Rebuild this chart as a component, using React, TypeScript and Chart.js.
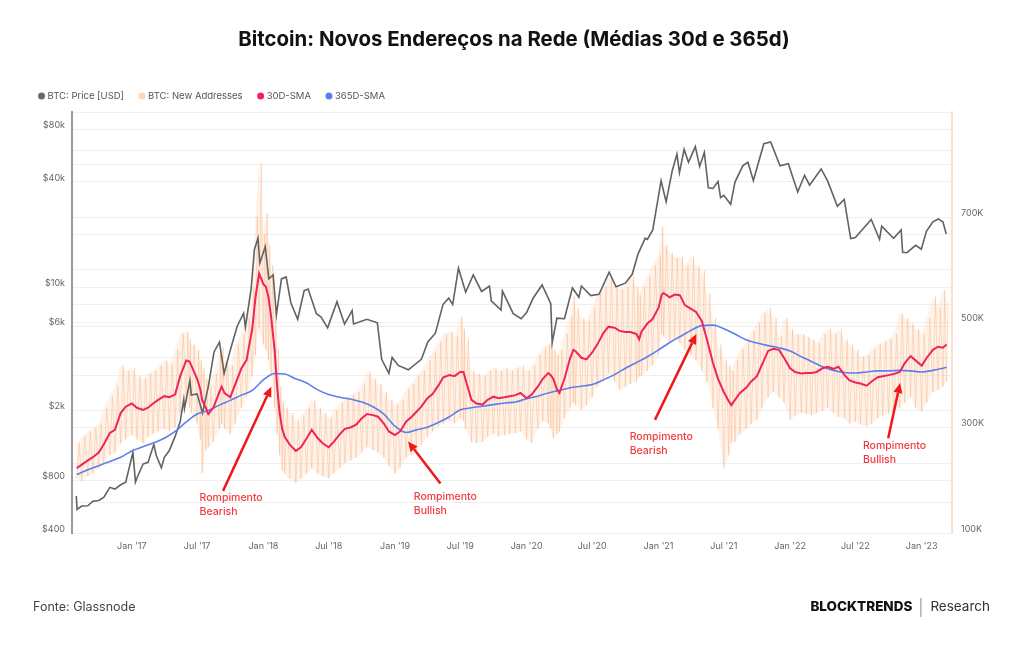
import React, { useEffect, useRef } from "react";
import { Chart, registerables } from "chart.js";

Chart.register(...registerables);

const FONT = 'Inter, "Noto Sans", Roboto, sans-serif';

const TITLE = "Bitcoin: Novos Endereços na Rede (Médias 30d e 365d)";
const SOURCE = "Fonte: Glassnode";

// BTC price (USD), left log axis
const priceDates = [
  "2016-07-31", "2016-08-02", "2016-08-15", "2016-09-01", "2016-09-15", "2016-10-01", "2016-10-15",
  "2016-11-01", "2016-11-15", "2016-12-01", "2016-12-15", "2017-01-04", "2017-01-11", "2017-01-15",
  "2017-02-01", "2017-02-15", "2017-03-03", "2017-03-10", "2017-03-24", "2017-04-01", "2017-04-15",
  "2017-05-01", "2017-05-15", "2017-05-25", "2017-05-27", "2017-06-11", "2017-06-15", "2017-07-01",
  "2017-07-16", "2017-08-01", "2017-08-17", "2017-09-01", "2017-09-14", "2017-10-01", "2017-10-20",
  "2017-11-07", "2017-11-12", "2017-11-28", "2017-12-07", "2017-12-17", "2017-12-22", "2018-01-06",
  "2018-01-16", "2018-01-28", "2018-02-06", "2018-02-20", "2018-03-05", "2018-03-18", "2018-04-06",
  "2018-04-24", "2018-05-05", "2018-05-28", "2018-06-10", "2018-06-28", "2018-07-24", "2018-08-14",
  "2018-09-04", "2018-09-08", "2018-10-15", "2018-11-13", "2018-11-25", "2018-12-15", "2018-12-24",
  "2019-01-10", "2019-02-07", "2019-03-15", "2019-04-02", "2019-04-23", "2019-05-14", "2019-05-30",
  "2019-06-10", "2019-06-26", "2019-07-16", "2019-08-06", "2019-08-29", "2019-09-20", "2019-09-25",
  "2019-10-22", "2019-10-26", "2019-11-25", "2019-12-17", "2020-01-01", "2020-01-19", "2020-02-13",
  "2020-03-08", "2020-03-12", "2020-03-25", "2020-04-15", "2020-05-07", "2020-05-25", "2020-06-01",
  "2020-06-27", "2020-07-20", "2020-08-17", "2020-09-05", "2020-10-01", "2020-10-20", "2020-11-05",
  "2020-11-25", "2020-12-01", "2020-12-16", "2021-01-08", "2021-01-22", "2021-02-08", "2021-02-21",
  "2021-02-28", "2021-03-13", "2021-03-25", "2021-04-13", "2021-04-25", "2021-05-08", "2021-05-19",
  "2021-06-01", "2021-06-15", "2021-06-22", "2021-07-01", "2021-07-20", "2021-08-01", "2021-08-23",
  "2021-09-06", "2021-09-21", "2021-10-20", "2021-11-08", "2021-12-04", "2021-12-27", "2022-01-22",
  "2022-02-10", "2022-02-24", "2022-03-28", "2022-04-15", "2022-05-12", "2022-05-31", "2022-06-18",
  "2022-07-01", "2022-08-14", "2022-09-06", "2022-09-12", "2022-10-15", "2022-11-05", "2022-11-09",
  "2022-11-21", "2022-12-15", "2022-12-31", "2023-01-14", "2023-02-01", "2023-02-16", "2023-03-01",
  "2023-03-10",
];
const priceUsd = [
  650, 545, 570, 572, 607, 613, 638,
  728, 712, 753, 778, 1150, 780, 820,
  988, 1010, 1280, 1100, 940, 1080, 1180,
  1420, 1720, 2300, 2050, 2950, 2440, 2480,
  1930, 2720, 4300, 4890, 3240, 4400, 6000,
  7150, 5950, 9900, 16500, 19100, 13800, 17100,
  11200, 11800, 7000, 11200, 11500, 8200, 6600,
  9600, 9800, 7100, 6800, 5900, 8300, 6200,
  7400, 6200, 6600, 6300, 3900, 3250, 4000,
  3600, 3400, 3900, 4900, 5500, 8000, 8700,
  8000, 12900, 9400, 11800, 9500, 10200, 8400,
  7450, 9550, 7100, 6650, 7200, 8700, 10350,
  8100, 4850, 6700, 6650, 9950, 8800, 10200,
  9000, 9160, 12250, 10100, 10600, 11900, 15500,
  19100, 18800, 21300, 40600, 30800, 46300, 57500,
  45100, 61200, 51700, 63500, 49000, 58800, 37000,
  36700, 40200, 32500, 33500, 29800, 39900, 49500,
  51700, 40700, 66000, 67500, 49400, 50700, 35000,
  43600, 38300, 47400, 40500, 29000, 31800, 19000,
  19300, 24400, 18800, 22400, 19100, 21300, 15900,
  15800, 17400, 16550, 20900, 23700, 24600, 23600,
  20200,
];

// New addresses (thousands): daily range per period, and the 30-day average
const smaDates = [
  "2016-08-01", "2016-08-15", "2016-09-01", "2016-09-15", "2016-10-01", "2016-10-15", "2016-11-01",
  "2016-11-15", "2016-12-01", "2016-12-15", "2017-01-01", "2017-01-15", "2017-02-01", "2017-02-15",
  "2017-03-01", "2017-03-15", "2017-04-01", "2017-04-15", "2017-05-01", "2017-05-15", "2017-06-01",
  "2017-06-10", "2017-06-15", "2017-07-01", "2017-07-10", "2017-07-15", "2017-07-25", "2017-08-01",
  "2017-08-15", "2017-09-01", "2017-09-07", "2017-09-15", "2017-10-01", "2017-10-15", "2017-11-01",
  "2017-11-15", "2017-12-01", "2017-12-10", "2017-12-20", "2018-01-01", "2018-01-08", "2018-01-15",
  "2018-01-22", "2018-02-01", "2018-02-08", "2018-02-15", "2018-02-22", "2018-03-01", "2018-03-15",
  "2018-04-01", "2018-04-15", "2018-05-01", "2018-05-15", "2018-06-01", "2018-06-15", "2018-07-01",
  "2018-07-15", "2018-08-01", "2018-08-15", "2018-09-01", "2018-09-15", "2018-10-01", "2018-10-15",
  "2018-11-01", "2018-11-15", "2018-12-01", "2018-12-15", "2019-01-01", "2019-01-15", "2019-02-01",
  "2019-02-15", "2019-03-01", "2019-03-15", "2019-04-01", "2019-04-15", "2019-05-01", "2019-05-15",
  "2019-06-01", "2019-06-15", "2019-07-01", "2019-07-10", "2019-07-15", "2019-08-01", "2019-08-15",
  "2019-09-01", "2019-09-15", "2019-10-01", "2019-10-15", "2019-11-01", "2019-11-15", "2019-12-01",
  "2019-12-15", "2020-01-01", "2020-01-15", "2020-02-01", "2020-02-15", "2020-03-01", "2020-03-08",
  "2020-03-15", "2020-03-25", "2020-04-01", "2020-04-15", "2020-05-01", "2020-05-10", "2020-05-15",
  "2020-06-01", "2020-06-15", "2020-07-01", "2020-07-15", "2020-08-01", "2020-08-15", "2020-09-01",
  "2020-09-15", "2020-10-01", "2020-10-15", "2020-11-01", "2020-11-08", "2020-11-15", "2020-12-01",
  "2020-12-15", "2021-01-01", "2021-01-10", "2021-01-15", "2021-02-01", "2021-02-15", "2021-03-01",
  "2021-03-15", "2021-04-01", "2021-04-15", "2021-05-01", "2021-05-15", "2021-06-01", "2021-06-15",
  "2021-07-01", "2021-07-15", "2021-07-22", "2021-08-01", "2021-08-15", "2021-09-01", "2021-09-15",
  "2021-10-01", "2021-10-15", "2021-11-01", "2021-11-15", "2021-12-01", "2021-12-15", "2022-01-01",
  "2022-01-15", "2022-02-01", "2022-02-15", "2022-03-01", "2022-03-15", "2022-04-01", "2022-04-15",
  "2022-05-01", "2022-05-15", "2022-06-01", "2022-06-15", "2022-07-01", "2022-07-15", "2022-08-01",
  "2022-08-15", "2022-09-01", "2022-09-15", "2022-10-01", "2022-10-15", "2022-11-01", "2022-11-15",
  "2022-12-01", "2022-12-15", "2023-01-01", "2023-01-15", "2023-02-01", "2023-02-15", "2023-03-01",
  "2023-03-11",
];
const newAddrLow = [
  203, 198, 208, 213, 223, 233, 248,
  253, 270, 278, 286, 278, 270, 283,
  288, 293, 298, 293, 300, 328, 348,
  338, 328, 308, 278, 214, 258, 263,
  273, 298, 308, 298, 288, 308, 338,
  358, 398, 438, 488, 458, 448, 428,
  398, 338, 288, 248, 218, 213, 203,
  195, 203, 213, 223, 213, 208, 203,
  213, 223, 233, 238, 243, 253, 263,
  258, 253, 243, 228, 213, 223, 243,
  248, 258, 268, 283, 293, 303, 308,
  313, 308, 318, 313, 298, 273, 271,
  273, 283, 288, 283, 286, 288, 290,
  293, 278, 271, 298, 313, 308, 298,
  280, 288, 293, 318, 338, 348, 343,
  334, 343, 358, 378, 388, 403, 388,
  372, 378, 383, 388, 397, 398, 408,
  418, 438, 478, 473, 463, 468, 461,
  448, 438, 428, 408, 388, 338, 298,
  223, 248, 271, 273, 288, 298, 308,
  315, 338, 358, 368, 358, 348, 315,
  323, 328, 326, 324, 328, 333, 338,
  328, 321, 318, 308, 312, 306, 303,
  308, 318, 323, 328, 333, 338, 348,
  358, 338, 331, 348, 368, 372, 378,
  388,
];
const newAddrHigh = [
  270, 283, 293, 298, 308, 338, 360,
  378, 419, 408, 413, 398, 393, 403,
  408, 418, 428, 420, 448, 480, 483,
  468, 458, 448, 428, 413, 393, 378,
  403, 438, 453, 428, 418, 458, 478,
  508, 568, 701, 802, 668, 708, 648,
  608, 528, 448, 378, 348, 338, 328,
  313, 323, 338, 353, 338, 328, 318,
  333, 348, 358, 363, 368, 383, 407,
  393, 383, 368, 353, 343, 353, 373,
  383, 398, 408, 428, 443, 463, 478,
  483, 473, 511, 488, 468, 408, 403,
  398, 408, 413, 408, 413, 408, 413,
  418, 408, 418, 438, 453, 458, 463,
  448, 438, 448, 478, 511, 549, 528,
  508, 503, 528, 556, 568, 587, 568,
  563, 568, 587, 568, 553, 568, 588,
  608, 628, 682, 648, 632, 623, 625,
  608, 625, 608, 598, 556, 508, 458,
  429, 418, 408, 428, 448, 463, 483,
  499, 518, 528, 508, 473, 508, 488,
  478, 478, 473, 468, 461, 478, 488,
  478, 488, 468, 458, 448, 435, 438,
  448, 458, 463, 468, 478, 518, 508,
  498, 488, 478, 508, 549, 528, 562,
  538,
];
const sma30d = [
  223, 230, 238, 244, 253, 268, 290,
  296, 328, 340, 346, 338, 334, 338,
  346, 353, 360, 358, 363, 398, 428,
  426, 418, 393, 373, 353, 338, 326,
  338, 368, 378, 366, 358, 383, 413,
  428, 488, 548, 593, 573, 568, 548,
  513, 448, 378, 328, 298, 283, 268,
  256, 263, 280, 296, 280, 270, 263,
  273, 288, 298, 301, 306, 318, 326,
  324, 321, 308, 293, 286, 293, 312,
  320, 330, 340, 356, 364, 380, 396,
  400, 398, 406, 406, 393, 353, 346,
  344, 353, 359, 356, 358, 360, 362,
  366, 356, 363, 378, 393, 404, 400,
  393, 373, 366, 393, 433, 448, 446,
  433, 430, 443, 458, 480, 492, 490,
  484, 482, 482, 478, 468, 483, 498,
  506, 528, 553, 556, 548, 553, 552,
  533, 526, 520, 503, 468, 423, 393,
  368, 350, 343, 353, 366, 376, 388,
  398, 420, 446, 450, 448, 433, 413,
  406, 403, 404, 404, 406, 413, 416,
  412, 416, 400, 390, 386, 384, 380,
  388, 396, 398, 400, 402, 406, 423,
  436, 428, 418, 433, 448, 454, 452,
  458,
];

// 365-day average of new addresses (thousands)
const sma365Dates = [
  "2016-08-01", "2016-09-01", "2016-10-01", "2016-11-01", "2016-12-01",
  "2017-01-01", "2017-02-01", "2017-03-01", "2017-04-01", "2017-05-01", "2017-06-01",
  "2017-07-01", "2017-08-01", "2017-09-01", "2017-10-01", "2017-11-01", "2017-12-01",
  "2018-01-01", "2018-02-01", "2018-03-01", "2018-04-01", "2018-05-01", "2018-06-01",
  "2018-07-01", "2018-08-01", "2018-09-01", "2018-10-01", "2018-11-01", "2018-12-01",
  "2019-01-01", "2019-02-01", "2019-03-01", "2019-04-01", "2019-05-01", "2019-06-01",
  "2019-07-01", "2019-08-01", "2019-09-01", "2019-10-01", "2019-11-01", "2019-12-01",
  "2020-01-01", "2020-02-01", "2020-03-01", "2020-04-01", "2020-05-01", "2020-06-01",
  "2020-07-01", "2020-08-01", "2020-09-01", "2020-10-01", "2020-11-01", "2020-12-01",
  "2021-01-01", "2021-02-01", "2021-03-01", "2021-04-01", "2021-05-01", "2021-06-01",
  "2021-07-01", "2021-08-01", "2021-09-01", "2021-10-01", "2021-11-01", "2021-12-01",
  "2022-01-01", "2022-02-01", "2022-03-01", "2022-04-01", "2022-05-01", "2022-06-01",
  "2022-07-01", "2022-08-01", "2022-09-01", "2022-10-01", "2022-11-01", "2022-12-01",
  "2023-01-01", "2023-02-01", "2023-03-01", "2023-03-11",
];
const sma365d = [
  211, 220, 228, 236, 244,
  256, 264, 271, 280, 293, 311,
  326, 333, 343, 352, 362, 371,
  391, 403, 402, 393, 385, 372,
  363, 358, 354, 349, 340, 326,
  303, 291, 296, 301, 310, 321,
  334, 338, 341, 344, 347, 349,
  355, 360, 366, 371, 376, 379,
  382, 391, 401, 413, 424, 435,
  448, 462, 473, 485, 494, 495,
  488, 478, 467, 461, 456, 452,
  446, 435, 426, 416, 409, 405,
  404, 406, 408, 408, 409, 408,
  406, 409, 413, 415,
];

// Axis ticks
const xTickDates = [
  "2017-01-01", "2017-07-01", "2018-01-01", "2018-07-01", "2019-01-01", "2019-07-01", "2020-01-01",
  "2020-07-01", "2021-01-01", "2021-07-01", "2022-01-01", "2022-07-01", "2023-01-01",
];
const xTickLabels = [
  "Jan '17", "Jul '17", "Jan '18", "Jul '18", "Jan '19", "Jul '19", "Jan '20",
  "Jul '20", "Jan '21", "Jul '21", "Jan '22", "Jul '22", "Jan '23",
];
const priceGridValues = [400, 600, 800, 1000, 2000, 4000, 6000, 8000, 10000, 20000, 40000, 60000, 80000];
const priceTickValues = [400, 800, 2000, 6000, 10000, 40000, 80000];
const priceTickLabels = ["$400", "$800", "$2k", "$6k", "$10k", "$40k", "$80k"];
const addrGridValues = [100, 200, 300, 400, 500, 600, 700, 800, 900];
const addrTickValues = [100, 300, 500, 700];
const addrTickLabels = ["100K", "300K", "500K", "700K"];

// Legend
const legendLabels = ["BTC: Price [USD]", "BTC: New Addresses", "30D-SMA", "365D-SMA"];
const legendColors = ["#6b6b6b", "#fcd7ba", "#f0245c", "#5b80ee"];

// Callouts anchored at [date, new addresses (K)]
const callouts = [
  { lines: ["Rompimento", "Bearish"], text: ["2017-07-08", 167], from: ["2017-09-11", 180], to: ["2018-01-23", 378] },
  { lines: ["Rompimento", "Bullish"], text: ["2019-02-22", 169], from: ["2019-05-07", 194], to: ["2019-02-06", 274] },
  { lines: ["Rompimento", "Bearish"], text: ["2020-10-13", 283], from: ["2020-12-22", 315], to: ["2021-04-16", 478] },
  { lines: ["Rompimento", "Bullish"], text: ["2022-07-22", 265], from: ["2022-09-30", 280], to: ["2022-11-02", 385] },
];

const DAY0 = Date.UTC(2017, 0, 1);
function toDay(s: string): number {
  const [y, m, d] = s.split("-").map(Number);
  return (Date.UTC(y, m - 1, d || 1) - DAY0) / 86400000;
}

// Daily swings of new addresses drawn as an alternating low/high trace
function buildAddressTrace() {
  const pts: { x: number; y: number }[] = [];
  smaDates.forEach((s, i) => {
    const d = toDay(s);
    const next = i < smaDates.length - 1 ? toDay(smaDates[i + 1]) : d + 8;
    pts.push({ x: d, y: newAddrLow[i] });
    pts.push({ x: (d + next) / 2, y: newAddrHigh[i] });
  });
  return pts;
}

const overlayPlugin = {
  id: "overlay",
  afterDraw(chart: any) {
    const { ctx, scales } = chart;
    const xs = scales.x;
    const ys = scales.yAddr;
    ctx.save();

    // Title
    ctx.fillStyle = "#111111";
    ctx.font = `700 20.4px ${FONT}`;
    ctx.textAlign = "center";
    ctx.textBaseline = "middle";
    ctx.fillText(TITLE, 514, 40);

    // Legend
    ctx.font = `400 9.5px ${FONT}`;
    ctx.textAlign = "left";
    let lx = 38;
    legendLabels.forEach((label, i) => {
      ctx.fillStyle = legendColors[i];
      ctx.beginPath();
      ctx.arc(lx + 3.5, 96, 3.5, 0, Math.PI * 2);
      ctx.fill();
      ctx.fillStyle = "#555555";
      ctx.fillText(label, lx + 9.5, 96.5);
      lx += 9.5 + ctx.measureText(label).width + 14.5;
    });

    // Callouts
    callouts.forEach((c) => {
      const tx = xs.getPixelForValue(toDay(c.text[0] as string));
      const ty = ys.getPixelForValue(c.text[1] as number);
      const fx = xs.getPixelForValue(toDay(c.from[0] as string));
      const fy = ys.getPixelForValue(c.from[1] as number);
      const hx = xs.getPixelForValue(toDay(c.to[0] as string));
      const hy = ys.getPixelForValue(c.to[1] as number);
      const ang = Math.atan2(hy - fy, hx - fx);
      const headLen = 10;
      const bx = hx - Math.cos(ang) * headLen;
      const by = hy - Math.sin(ang) * headLen;
      ctx.strokeStyle = "#f01818";
      ctx.fillStyle = "#f01818";
      ctx.lineWidth = 2.5;
      ctx.beginPath();
      ctx.moveTo(fx, fy);
      ctx.lineTo(bx, by);
      ctx.stroke();
      ctx.beginPath();
      ctx.moveTo(hx, hy);
      ctx.lineTo(bx + Math.sin(ang) * 4.5, by - Math.cos(ang) * 4.5);
      ctx.lineTo(bx - Math.sin(ang) * 4.5, by + Math.cos(ang) * 4.5);
      ctx.closePath();
      ctx.fill();

      ctx.fillStyle = "#f23a3f";
      ctx.font = `500 10.5px ${FONT}`;
      ctx.textAlign = "left";
      ctx.textBaseline = "middle";
      c.lines.forEach((t, k) => ctx.fillText(t, tx, ty + k * 14));
    });

    // Footer
    ctx.textBaseline = "middle";
    ctx.textAlign = "left";
    ctx.fillStyle = "#444444";
    ctx.font = `400 12.5px ${FONT}`;
    ctx.fillText(SOURCE, 33, 607);

    ctx.textAlign = "right";
    ctx.fillStyle = "#333333";
    ctx.font = `400 13.5px ${FONT}`;
    ctx.fillText("Research", 990, 607);
    const rw = ctx.measureText("Research").width;
    const sepX = 990 - rw - 10;
    ctx.strokeStyle = "#888888";
    ctx.lineWidth = 1;
    ctx.beginPath();
    ctx.moveTo(sepX + 0.5, 598);
    ctx.lineTo(sepX + 0.5, 617);
    ctx.stroke();
    ctx.fillStyle = "#111111";
    ctx.font = `800 13.5px ${FONT}`;
    ctx.fillText("BLOCKTRENDS", sepX - 8, 607);

    ctx.restore();
  },
};

export default function App() {
  const canvasRef = useRef<HTMLCanvasElement | null>(null);

  useEffect(() => {
    if (!canvasRef.current) return;
    const priceData = priceDates.map((d, i) => ({ x: toDay(d), y: priceUsd[i] }));
    const sma30Data = smaDates.map((d, i) => ({ x: toDay(d), y: sma30d[i] }));
    const sma365Data = sma365Dates.map((d, i) => ({ x: toDay(d), y: sma365d[i] }));
    const lowData = smaDates.map((d, i) => ({ x: toDay(d), y: newAddrLow[i] }));
    const highData = smaDates.map((d, i) => ({ x: toDay(d), y: newAddrHigh[i] }));

    const chart = new Chart(canvasRef.current, {
      type: "line",
      data: {
        datasets: [
          {
            label: "30D-SMA",
            data: sma30Data,
            yAxisID: "yAddr",
            borderColor: "#f0245c",
            borderWidth: 2,
            pointRadius: 0,
            order: 1,
          },
          {
            label: "365D-SMA",
            data: sma365Data,
            yAxisID: "yAddr",
            borderColor: "#5b80ee",
            borderWidth: 1.6,
            pointRadius: 0,
            cubicInterpolationMode: "monotone",
            order: 2,
          },
          {
            label: "BTC: Price [USD]",
            data: priceData,
            yAxisID: "yPrice",
            borderColor: "#626262",
            borderWidth: 1.6,
            pointRadius: 0,
            order: 3,
          },
          {
            label: "BTC: New Addresses",
            data: buildAddressTrace(),
            yAxisID: "yAddr",
            borderColor: "rgba(248, 178, 128, 0.42)",
            borderWidth: 1,
            pointRadius: 0,
            order: 4,
          },
          {
            label: "range-low",
            data: lowData,
            yAxisID: "yAddr",
            borderWidth: 0,
            borderColor: "rgba(0,0,0,0)",
            pointRadius: 0,
            fill: false,
            order: 6,
          },
          {
            label: "range-high",
            data: highData,
            yAxisID: "yAddr",
            borderWidth: 0,
            borderColor: "rgba(0,0,0,0)",
            backgroundColor: "rgba(252, 212, 182, 0.3)",
            pointRadius: 0,
            fill: 4,
            order: 5,
          },
        ],
      },
      options: {
        responsive: false,
        animation: false,
        events: [],
        layout: { padding: { top: 112, left: 0, right: 0, bottom: 0 } },
        plugins: {
          legend: { display: false },
          tooltip: { enabled: false },
          title: { display: false },
          filler: { propagate: false },
        },
        scales: {
          x: {
            type: "linear",
            min: -166,
            max: 2275,
            grid: { display: false, drawTicks: false },
            border: { display: false },
            afterFit: (s: any) => {
              s.height = 112;
            },
            afterBuildTicks: (s: any) => {
              s.ticks = xTickDates.map((d) => ({ value: toDay(d) }));
            },
            ticks: {
              autoSkip: false,
              maxRotation: 0,
              padding: 8,
              color: "#666666",
              font: { family: FONT, size: 9 },
              callback: (_v: any, i: number) => xTickLabels[i],
            },
          },
          yPrice: {
            type: "logarithmic",
            position: "left",
            min: 400,
            max: 100000,
            grid: { color: "#efefef", lineWidth: 1, drawTicks: false },
            border: { display: true, color: "#9a9a9a", width: 2 },
            afterFit: (s: any) => {
              s.width = 72;
            },
            afterBuildTicks: (s: any) => {
              s.ticks = priceGridValues.map((v) => ({ value: v }));
            },
            ticks: {
              autoSkip: false,
              padding: 7,
              labelOffset: -4,
              color: "#666666",
              font: { family: FONT, size: 9 },
              callback: (v: any) => {
                const i = priceTickValues.indexOf(Number(v));
                return i >= 0 ? priceTickLabels[i] : "";
              },
            },
          },
          yAddr: {
            type: "linear",
            position: "right",
            min: 100,
            max: 900,
            grid: { color: "#efefef", lineWidth: 1, drawTicks: false },
            border: { display: true, color: "#fde0cb", width: 2 },
            afterFit: (s: any) => {
              s.width = 72;
            },
            afterBuildTicks: (s: any) => {
              s.ticks = addrGridValues.map((v) => ({ value: v }));
            },
            ticks: {
              autoSkip: false,
              padding: 9,
              labelOffset: -4,
              color: "#666666",
              font: { family: FONT, size: 9 },
              callback: (v: any) => {
                const i = addrTickValues.indexOf(Number(v));
                return i >= 0 ? addrTickLabels[i] : "";
              },
            },
          },
        },
      },
      plugins: [overlayPlugin],
    } as any);

    return () => chart.destroy();
  }, []);

  return (
    <div style={{ position: "absolute", left: 0, top: 0, width: 1024, height: 645, background: "#ffffff" }}>
      <canvas ref={canvasRef} width={1024} height={645} style={{ width: 1024, height: 645, display: "block" }} />
    </div>
  );
}
